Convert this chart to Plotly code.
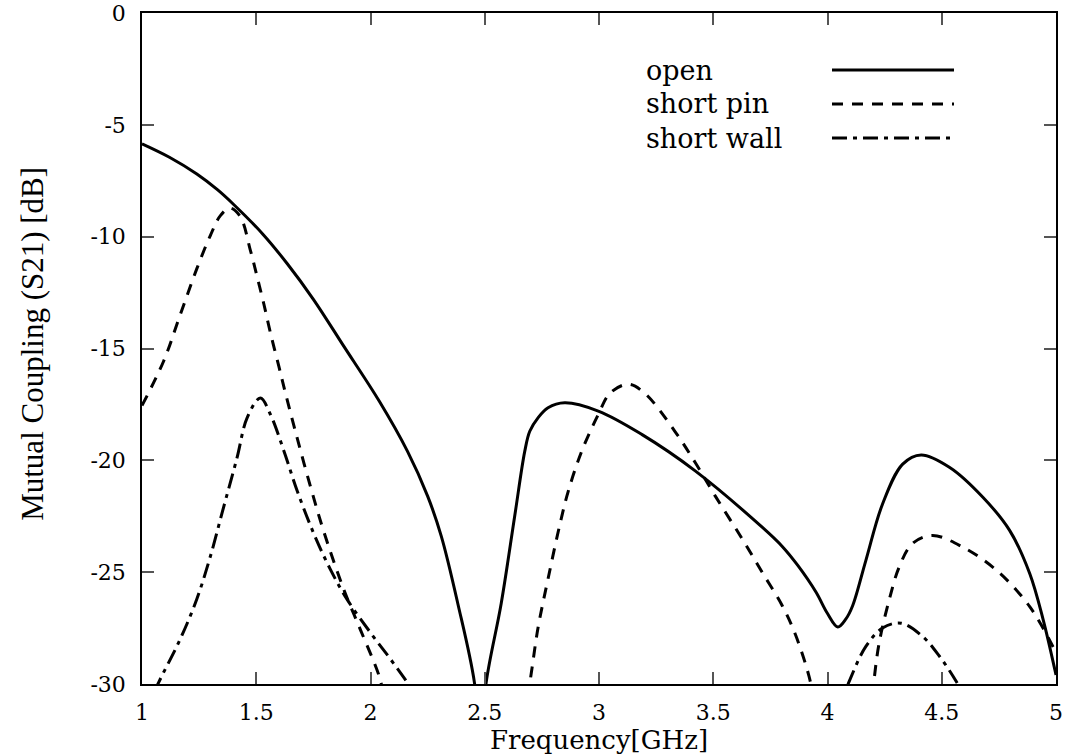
import plotly.graph_objects as go

# Mutual coupling S21 (dB) versus frequency (GHz) for three antenna configurations
open_f = [1.00, 1.12, 1.24, 1.33, 1.40, 1.53, 1.635, 1.75, 1.88, 2.038, 2.162,
          2.25, 2.31, 2.382, 2.455, 2.48, 2.506, 2.572, 2.631, 2.675, 2.697, 2.733, 2.777,
          2.85, 2.997, 3.187, 3.421, 3.714, 3.802, 3.87, 3.95, 4.0, 4.045, 4.08, 4.11, 4.168,
          4.241, 4.329, 4.41, 4.535, 4.68, 4.797, 4.885, 4.944, 4.995, 5.0]
open_db = [-5.85, -6.45, -7.2, -7.9, -8.55, -9.9, -11.2, -12.8, -14.85, -17.35, -19.6,
           -21.6, -23.4, -26.4, -29.95, -33.0, -29.95, -26.4, -22.5, -19.6, -18.7, -18.1, -17.65,
           -17.43, -17.8, -18.84, -20.47, -22.99, -23.85, -24.7, -25.9, -26.85, -27.45, -27.1, -26.5, -24.47,
           -21.95, -20.17, -19.76, -20.32, -21.65, -23.13, -25.06, -27.13, -29.36, -29.6]

pin_f = [1.00, 1.094, 1.167, 1.24, 1.299, 1.343, 1.385, 1.43, 1.474, 1.504, 1.533, 1.562,
         1.599, 1.628, 1.679, 1.738, 1.796, 1.884, 1.957, 2.038, 2.06, 2.25, 2.5, 2.66,
         2.697, 2.733, 2.777, 2.828, 2.865, 2.924, 2.997, 3.048, 3.128, 3.2, 3.332, 3.421,
         3.509, 3.626, 3.714, 3.802, 3.86, 3.919, 3.95, 4.06, 4.19, 4.204, 4.226, 4.27,
         4.314, 4.372, 4.46, 4.592, 4.739, 4.885, 5.0]
pin_db = [-17.55, -15.58, -13.5, -11.43, -9.95, -9.06, -8.72, -9.1, -10.6, -11.8, -13.0, -14.3,
          -15.8, -17.0, -19.0, -21.2, -23.2, -25.8, -27.6, -29.65, -30.6, -38.0, -40.0, -32.0,
          -29.95, -27.5, -25.3, -22.9, -21.4, -19.6, -17.95, -17.0, -16.6, -17.0, -18.7, -20.1,
          -21.6, -23.5, -25.0, -26.5, -27.8, -29.65, -31.2, -36.0, -31.3, -29.8, -28.17, -26.24,
          -24.76, -23.72, -23.36, -23.88, -24.91, -26.54, -28.6]

wall_f = [1.00, 1.072, 1.167, 1.24, 1.299, 1.357, 1.416, 1.46, 1.518, 1.562, 1.621, 1.679,
          1.752, 1.826, 1.899, 2.001, 2.089, 2.162, 2.24, 2.7, 3.3, 3.8, 4.04, 4.095,
          4.168, 4.241, 4.322, 4.417, 4.49, 4.563, 4.64, 5.0]
wall_db = [-31.6, -29.95, -28.0, -26.2, -24.3, -22.1, -19.88, -18.1, -17.21, -17.95, -19.58, -21.36,
           -23.28, -24.91, -26.24, -27.72, -28.91, -29.95, -31.2, -38.0, -42.0, -38.0, -31.3, -29.88,
           -28.32, -27.5, -27.28, -27.88, -28.76, -29.88, -31.4, -38.0]

series_names = ["open", "short pin", "short wall"]
series_dash = ["solid", "11px,9px", "15px,6px,4px,6px"]

x_ticks = [1, 1.5, 2, 2.5, 3, 3.5, 4, 4.5, 5]
x_ticktext = ["1", "1.5", "2", "2.5", "3", "3.5", "4", "4.5", "5"]
y_ticks = [0, -5, -10, -15, -20, -25, -30]
y_ticktext = ["0", "-5", "-10", "-15", "-20", "-25", "-30"]

W, H = 1070, 756
L, R, T, B = 142, 14, 13, 72
plot_w = W - L - R
plot_h = H - T - B


def px_x(px):
    return (px - L) / plot_w


def px_y(py):
    return (H - B - py) / plot_h


fig = go.Figure()
for fx, fy, dash in zip([open_f, pin_f, wall_f], [open_db, pin_db, wall_db], series_dash):
    fig.add_trace(go.Scatter(
        x=fx, y=fy, mode="lines",
        line=dict(color="black", width=3, dash=dash, shape="spline", smoothing=1.0),
        showlegend=False, hoverinfo="skip",
    ))

# key: labels with line samples in the upper right
key_rows_y = [70, 104, 138]
for name, dash, ky in zip(series_names, series_dash, key_rows_y):
    fig.add_annotation(
        x=px_x(644), y=px_y(ky), xref="paper", yref="paper",
        text=name, showarrow=False, xanchor="left", yanchor="middle",
        font=dict(family="DejaVu Serif", size=27, color="black"),
    )
    fig.add_shape(
        type="line", xref="paper", yref="paper",
        x0=px_x(832), x1=px_x(954), y0=px_y(ky), y1=px_y(ky),
        line=dict(color="black", width=3, dash=dash),
    )

fig.add_annotation(
    x=px_x(33), y=0.507, xref="paper", yref="paper",
    text="Mutual Coupling (S21) [dB]", textangle=-90, showarrow=False,
    xanchor="center", yanchor="middle",
    font=dict(family="Liberation Serif", size=31, color="black"),
)

axis_common = dict(
    showgrid=False, zeroline=False, showline=True, linecolor="black", linewidth=1.5,
    mirror="ticks", ticks="inside", ticklen=12, tickwidth=1.5, tickcolor="#555555",
    tickfont=dict(family="DejaVu Serif", size=22, color="black"), automargin=False,
    ticklabeloverflow="allow",
)

fig.update_layout(
    template="none",
    width=W, height=H,
    margin=dict(l=L, r=R, t=T, b=B),
    paper_bgcolor="white", plot_bgcolor="white",
    xaxis=dict(range=[1, 5], tickmode="array", tickvals=x_ticks, ticktext=x_ticktext,
               ticklabelstandoff=8,
               title=dict(text="Frequency[GHz]", standoff=6,
                          font=dict(family="DejaVu Serif", size=26, color="black")),
               **axis_common),
    yaxis=dict(range=[-30, 0], tickmode="array", tickvals=y_ticks, ticktext=y_ticktext,
               ticklabelstandoff=10, **axis_common),
)

fig.write_html("out.html")
